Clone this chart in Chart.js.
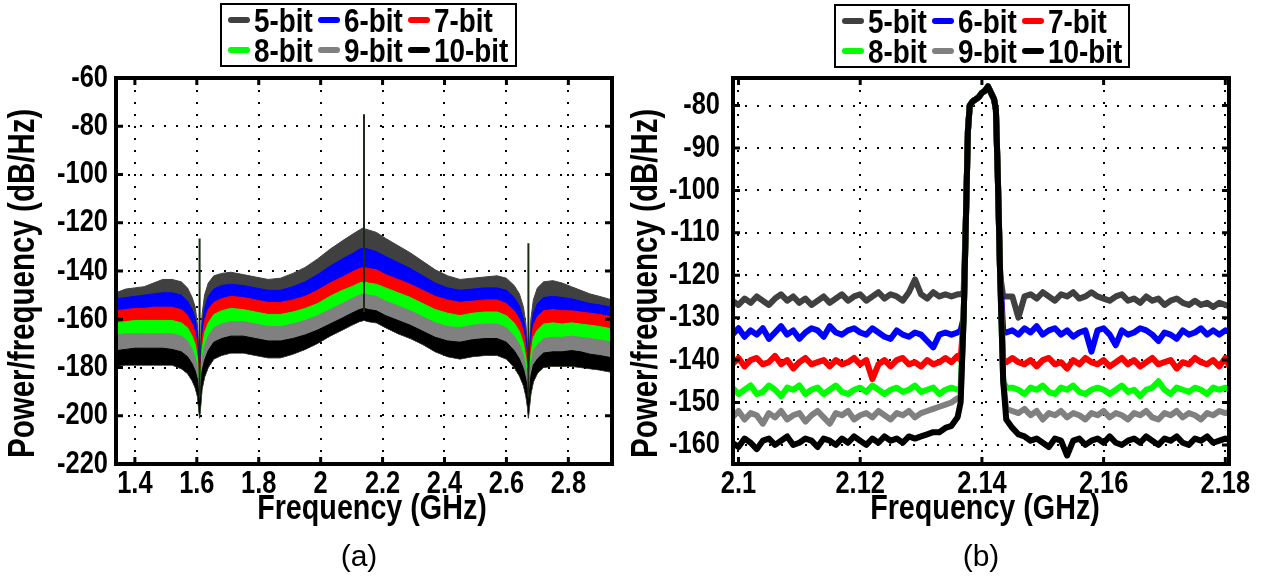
<!DOCTYPE html>
<html>
<head>
<meta charset="utf-8">
<script src="https://cdn.jsdelivr.net/npm/chart.js@4.4.0/dist/chart.umd.min.js"></script>
<style>
html,body{margin:0;padding:0;background:#fff;width:1266px;height:578px;overflow:hidden;position:relative;font-family:'Liberation Sans',Arial,Helvetica,sans-serif;}
canvas{position:absolute;top:0;}
#cA{left:0;width:625px;height:578px;}
#cB{left:625px;width:641px;height:578px;}
.legend{position:absolute;box-sizing:border-box;border:2.5px solid #000;background:#fff;display:grid;grid-template-columns:auto auto auto;column-gap:5px;justify-content:center;align-content:center;font-weight:bold;font-size:34px;line-height:30px;color:#000;}
.item{display:flex;align-items:center;white-space:nowrap;}
.swatch{display:inline-block;width:22px;height:6px;border-radius:3px;margin-right:4px;}
.txt{display:inline-block;transform:scaleX(0.82);transform-origin:0 50%;}
.cap{position:absolute;font-size:30px;transform:translate(-50%,-50%);color:#000;}
</style>
</head>
<body>
<canvas id="cA" width="625" height="578"></canvas>
<canvas id="cB" width="641" height="578"></canvas>
<div class="legend" id="legA" style="left:220px;top:3px;width:297px;height:64px"></div>
<div class="legend" id="legB" style="left:834px;top:4px;width:296px;height:64px"></div>
<div class="cap" style="left:359px;top:556px">(a)</div>
<div class="cap" style="left:981px;top:556px">(b)</div>
<script>
// ---------- shared ----------
const seriesNames = ['5-bit','6-bit','7-bit','8-bit','9-bit','10-bit'];
const seriesColors = ['#404040','#0000ff','#ff0000','#00ff00','#808080','#000000'];

// ---------- panel (a): wideband PSD, upper envelopes of each trace ----------
const freqA = [1.339,1.37,1.40,1.43,1.46,1.49,1.52,1.55,1.57,1.585,1.595,1.602,1.606,1.609,1.612,1.617,1.625,1.637,1.655,1.68,1.71,1.75,1.79,1.83,1.87,1.91,1.95,1.99,2.03,2.07,2.10,2.125,2.139,2.141,2.155,2.18,2.21,2.25,2.29,2.33,2.37,2.41,2.45,2.49,2.53,2.57,2.60,2.625,2.642,2.655,2.663,2.668,2.671,2.674,2.679,2.687,2.70,2.72,2.75,2.78,2.81,2.84,2.87,2.90,2.941];
const top5A = [-149,-147.5,-147,-146.5,-145,-143.5,-143.5,-144.5,-147,-151,-155,-162,-172,-184,-172,-158,-150,-145,-142,-141,-140.5,-141.5,-142.5,-143.5,-143,-141,-138.5,-135,-131,-127.5,-125,-123,-122,-122.5,-123,-124,-126.5,-129.5,-132.5,-136,-139.5,-142,-143.5,-143,-142.5,-142,-143,-146,-149.5,-155,-162,-171,-184,-172,-160,-152,-147,-144.5,-144,-145,-146.5,-148,-149.5,-150.5,-152];
const top6A = [-151.5,-151,-150.5,-150,-149.5,-149,-149,-150,-152.5,-156,-160,-166.5,-176,-187,-176,-163,-155.5,-150.5,-147.5,-146,-145.5,-146,-147,-148,-148,-146.5,-144.5,-141.5,-138,-135,-133,-131,-130.5,-130.5,-131,-132,-134,-136.5,-139,-142,-145,-147,-148,-147.5,-147,-147,-148,-151,-154.5,-160,-166.5,-175,-187,-176,-165,-157.5,-153.5,-151,-150.5,-151,-151.5,-152.5,-153.5,-154,-155];
const top7A = [-156.5,-156,-155.5,-155.5,-155,-155,-155,-156,-158.5,-162,-165.5,-171.5,-180,-189,-180,-168,-160.5,-156,-153,-151.5,-150.5,-151,-152,-153,-153,-152,-150.5,-148,-145,-142.5,-140.5,-139,-138.5,-138.5,-139,-139.5,-141.5,-143.5,-145.5,-148,-150.5,-152,-153,-152.5,-152,-152,-153.5,-156.5,-160,-165,-171.5,-179,-189,-180,-170,-162.5,-159,-156.5,-156,-156.5,-156.5,-157,-157.5,-158,-159];
const top8A = [-161.5,-161,-160.5,-160.5,-160.5,-160.5,-160.5,-161.5,-163.5,-167,-170.5,-176,-184,-191,-184,-172.5,-165.5,-161.5,-158,-156.5,-155.5,-156,-157,-158,-158,-157,-155.5,-153.5,-150.5,-148,-146.5,-145,-144.5,-144.5,-145,-145.5,-147,-149,-151,-153.5,-156,-157.5,-158.5,-157.5,-157,-157,-158.5,-161.5,-165,-170,-176,-183,-191,-184,-174.5,-167.5,-164.5,-162,-161.5,-162,-161.5,-162,-162.5,-163,-164];
const top9A = [-166.5,-166,-166,-166,-166,-166,-166,-167,-169,-172.5,-176,-180.5,-187.5,-193,-187.5,-177,-171,-167,-163.5,-162,-161,-161,-162,-163,-163,-162,-160.5,-158.5,-156,-153.5,-151.5,-150,-149.5,-149.5,-150,-150.5,-152.5,-154.5,-156.5,-159,-161.5,-163,-163.5,-162.5,-162,-162,-163.5,-167,-170.5,-175,-180.5,-186.5,-193,-187.5,-179,-173,-170.5,-168,-167.5,-167.5,-167,-167.5,-168,-168.5,-169.5];
const top10A = [-173,-172.5,-172,-172,-172,-172,-172.5,-173.5,-175.5,-178.5,-181.5,-185,-190.5,-195,-190.5,-181.5,-177,-173,-169.5,-168,-167,-167,-168,-169,-169,-168,-166.5,-164.5,-162,-159.5,-157.5,-156,-155.5,-155.5,-156,-156.5,-158.5,-160.5,-162.5,-165,-167.5,-169,-169.5,-168.5,-168,-168,-169.5,-173,-176.5,-180.5,-185,-189.5,-195,-190.5,-183.5,-179,-176.5,-174,-173.5,-173.5,-173,-173.5,-174.5,-175,-176];
const floor10A = [-179.5,-179,-179,-179,-179,-179,-179,-180.5,-182.5,-185.5,-188.5,-192,-197,-201,-197,-189,-184,-180,-176.5,-175,-174,-174,-175,-176,-176,-174.5,-172.5,-170,-167,-164.5,-162.5,-161,-160.5,-160.5,-161,-161.5,-163.5,-166,-168,-170.5,-173.5,-175.5,-176.5,-175.5,-175,-175,-176.5,-180,-183.5,-187.5,-192,-196.5,-201,-197,-191,-186,-182.5,-180,-179.5,-179.5,-179.5,-180,-180.5,-181,-182];
const spurFreqA = [1.609, 2.14, 2.671];
const spurPeakA = [-126.5, -75, -128.5];
const spurBaseA = [-192, -157, -192];
const xTicksA = [1.4,1.6,1.8,2.0,2.2,2.4,2.6,2.8];
const xLabelsA = ['1.4','1.6','1.8','2','2.2','2.4','2.6','2.8'];
const yTicksA = [-60,-80,-100,-120,-140,-160,-180,-200,-220];
const yLabelsA = ['-60','-80','-100','-120','-140','-160','-180','-200','-220'];

// ---------- panel (b): zoom around the carrier ----------
const freqB = [2.099,2.100,2.101,2.102,2.103,2.104,2.105,2.106,2.107,2.108,2.109,2.110,2.111,2.112,2.113,2.114,2.115,2.116,2.117,2.118,2.119,2.120,2.121,2.122,2.123,2.124,2.125,2.126,2.127,2.128,2.129,2.130,2.131,2.132,2.133,2.134,2.135,2.136,
 2.1365,2.1370,2.1374,2.1377,2.1380,2.1385,2.1390,2.1395,2.1400,2.1405,2.1410,2.1415,2.1420,2.1423,2.1426,2.1430,2.1435,2.1440,
 2.145,2.146,2.147,2.148,2.149,2.150,2.151,2.152,2.153,2.154,2.155,2.156,2.157,2.158,2.159,2.160,2.161,2.162,2.163,2.164,2.165,2.166,2.167,2.168,2.169,2.170,2.171,2.172,2.173,2.174,2.175,2.176,2.177,2.178,2.179,2.180,2.181];
const toneB = [-105,-86,-80,-79,-78.5,-78,-77,-76.5,-75.5,-77,-78.5,-81,-96,-120];
const b5Lo = [-126,-127,-125.5,-126.5,-125,-126,-127,-125.5,-124.5,-126,-125,-126.5,-125.5,-127,-126,-125,-126.5,-125.5,-124.5,-126,-125,-124.5,-126,-125,-124,-125.5,-124.5,-125,-126,-124,-121,-124.5,-125.5,-124,-125,-124.5,-125,-124.5];
const b5Edge = [-124.5,-124,-125,-125];
const b5Hi = [-125,-130,-125,-124.5,-125.5,-124,-125,-126,-124.5,-125,-124,-125.5,-125,-124,-125,-125.5,-126,-125,-124.5,-126,-125.5,-126.5,-125,-126,-125.5,-127,-126,-125.5,-126.5,-127,-126,-127,-126.5,-127.5,-126.5,-127,-127.5];
const b6Lo = [-134,-132.5,-134.5,-133,-134,-132.5,-135,-133.5,-132,-134,-133,-135,-133.5,-132.5,-133,-134.5,-132,-133.5,-134,-133,-132.5,-133.5,-134,-132.5,-133.5,-134.5,-135,-133,-134,-134.5,-133.5,-134,-135.5,-137,-134,-133.5,-134,-133.5];
const b6Edge = [-133,-130,-133,-133.5];
const b6Hi = [-133,-134,-132.5,-133.5,-132,-134,-133,-132.5,-134,-133,-134.5,-133.5,-133,-138,-133,-132.5,-134,-136.5,-133,-134,-133.5,-132.5,-133,-134,-135.5,-133.5,-134,-135,-133,-134,-133.5,-132.5,-134,-133,-134,-133,-133.5];
const b7Lo = [-141,-139.5,-141.5,-140,-139.5,-141,-140.5,-139,-141,-140,-142,-140.5,-139.5,-141,-140.5,-140,-141.5,-140,-141,-140.5,-139.5,-141,-140,-144.5,-141,-140,-141.5,-140,-139.5,-141,-140.5,-141.5,-140,-141,-140.5,-139.5,-140.5,-139];
const b7Edge = [-140,-130,-140,-140.5];
const b7Hi = [-139.5,-140.5,-141,-140,-141.5,-140,-139.5,-141,-140.5,-142,-140,-141,-139.5,-140.5,-141,-140,-141.5,-140.5,-139.5,-141,-140,-141.5,-140.5,-139.5,-141,-140.5,-140,-142,-140.5,-141,-139.5,-140.5,-141,-140,-141.5,-139.5,-142.5];
const b8Lo = [-146.5,-148,-147,-146,-148,-147.5,-146,-147,-148.5,-146.5,-147,-146,-148,-147,-146.5,-148,-147,-146,-147.5,-148,-147,-146.5,-147.5,-146,-147,-148,-147,-146.5,-147.5,-147,-146,-147.5,-147,-146.5,-148,-147,-146.5,-147];
const b8Edge = [-146.5,-130,-145,-146.5];
const b8Hi = [-146.5,-147,-148,-146.5,-147,-146,-147.5,-148,-146.5,-147,-146,-147.5,-148,-147,-146.5,-147,-148,-147,-146,-147.5,-147,-148.5,-147,-146.5,-145,-147,-148,-146.5,-147,-147.5,-146.5,-147,-148,-146.5,-147,-146.5,-147];
const b9Lo = [-153.5,-152,-154,-152.5,-153,-155,-152.5,-153.5,-152,-154,-153,-152.5,-154.5,-153,-152,-153.5,-155,-152.5,-153,-152,-154,-153,-152.5,-153.5,-152,-153,-154,-152.5,-153,-152,-153.5,-152.5,-152,-151.5,-151,-150.5,-150,-149];
const b9Edge = [-149,-130,-145,-151.5];
const b9Hi = [-152,-152.5,-151.5,-153,-152,-154,-152.5,-153,-152,-153.5,-152.5,-153,-154,-152.5,-153,-152,-153.5,-152.5,-153,-154,-152.5,-153,-152,-153.5,-154,-152.5,-153,-152,-153.5,-152.5,-153,-154,-152.5,-153,-152,-152.5,-152];
const b10Lo = [-159.5,-160.5,-158.5,-159.5,-161,-159,-158.5,-160,-159,-158,-160,-159.5,-158.5,-159,-160.5,-158.5,-159,-160,-158.5,-159.5,-158,-159,-160,-158.5,-159.5,-158,-159,-158.5,-159.5,-158,-158.5,-158,-157.5,-157,-157,-156,-155.5,-153.5];
const b10Edge = [-150,-130,-145,-154];
const b10Hi = [-156,-157.5,-158,-159,-158.5,-159.5,-160.5,-158.5,-159,-162.5,-159,-158.5,-160,-159,-158.5,-159.5,-158,-159.5,-160,-159,-158.5,-159.5,-158,-159,-160,-158.5,-159,-158,-159.5,-160,-158.5,-159,-158,-159.5,-159,-158.5,-159];
const xTicksB = [2.10,2.12,2.14,2.16,2.18];
const xLabelsB = ['2.1','2.12','2.14','2.16','2.18'];
const yTicksB = [-80,-90,-100,-110,-120,-130,-140,-150,-160];
const yLabelsB = ['-80','-90','-100','-110','-120','-130','-140','-150','-160'];

// ---------- helpers ----------
Chart.defaults.font.family = "'Liberation Sans', Arial, Helvetica, sans-serif";
Chart.defaults.color = '#000';
const NARROW_K = 0.82;   // the figure's lettering is condensed

function condense(canvas){
  const ctx = canvas.getContext('2d');
  const orig = ctx.fillText;
  ctx.fillText = function(text, x, y){
    this.save(); this.translate(x, y); this.scale(NARROW_K, 1);
    orig.call(this, text, 0, 0);
    this.restore();
  };
}

function pts(xs, ys){ return ys.map((y,i)=>({x:xs[i], y:y})); }

const framePlugin = {
  id:'frame',
  afterDraw(chart){
    const {ctx, chartArea:a} = chart;
    const xs = chart.scales.x, ys = chart.scales.y;
    ctx.save();
    ctx.strokeStyle = '#000';
    ctx.lineWidth = 3;
    ctx.beginPath();
    xs.ticks.forEach(t=>{ const p = xs.getPixelForValue(t.value);
      ctx.moveTo(p,a.bottom); ctx.lineTo(p,a.bottom-7);
      ctx.moveTo(p,a.top); ctx.lineTo(p,a.top+7); });
    ys.ticks.forEach(t=>{ const p = ys.getPixelForValue(t.value);
      ctx.moveTo(a.left,p); ctx.lineTo(a.left+7,p);
      ctx.moveTo(a.right,p); ctx.lineTo(a.right-7,p); });
    ctx.stroke();
    ctx.lineWidth = 4;
    ctx.strokeRect(a.left, a.top, a.right-a.left, a.bottom-a.top);
    ctx.restore();
  }
};

function scales(c){
  return {
    x: { type:'linear', min:c.xmin, max:c.xmax,
      afterBuildTicks: s => { s.ticks = c.xt.map(v=>({value:v})); },
      afterFit: s => { s.height = c.xh; },
      grid: { color:'#000', lineWidth:2, drawTicks:false },
      border: { display:false, dash:[2,10] },
      ticks: { color:'#000', font:{size:31, weight:'bold'}, padding:2, maxRotation:0, autoSkip:false, callback:(v,i)=>c.xl[i] },
      title: { display:true, text:c.xtitle, color:'#000', font:{size:35, weight:'bold'}, padding:0 } },
    y: { type:'linear', min:c.ymin, max:c.ymax,
      afterBuildTicks: s => { s.ticks = c.yt.map(v=>({value:v})); },
      afterFit: s => { s.width = c.yw; },
      grid: { color:'#000', lineWidth:2, drawTicks:false },
      border: { display:false, dash:[2,10] },
      ticks: { color:'#000', font:{size:31, weight:'bold'}, padding:c.ypad, autoSkip:false, callback:(v,i)=>c.yl[i] },
      title: { display:true, text:'Power/frequency (dB/Hz)\u00a0\u00a0\u00a0', color:'#000', font:{size:36, weight:'bold'}, padding:{top:c.ytp, bottom:0} } }
  };
}

const commonOpts = {
  responsive:false, animation:false, devicePixelRatio:1,
  plugins:{ legend:{display:false}, tooltip:{enabled:false} },
  elements:{ point:{radius:0} }
};

// ---------- chart (a) ----------
const cA = document.getElementById('cA');
condense(cA);
const topsA = [top5A, top6A, top7A, top8A, top9A, top10A];
const dsA = topsA.map((arr,i)=>({
  label: seriesNames[i], data: pts(freqA, arr),
  borderColor: seriesColors[i], backgroundColor: seriesColors[i],
  borderWidth: 1, fill: 6, order: 6-i, tension: 0
}));
dsA.push({ label:'floor', data: pts(freqA, floor10A), borderColor:'#000', borderWidth:1, fill:false, order: 8 });
const spurData = [];
spurFreqA.forEach((f,i)=>{ spurData.push({x:f, y:spurBaseA[i]}, {x:f, y:spurPeakA[i]}, {x:f, y:null}); });
dsA.push({ label:'spur', data: spurData, borderColor:'#1e2a14', borderWidth:2, fill:false, order:0, spanGaps:false });

new Chart(cA, {
  type:'line',
  data:{ datasets: dsA },
  options: Object.assign({}, commonOpts, {
    layout:{ padding:{ top:78, left:0, right:13, bottom:48 } },
    scales: scales({ xmin:1.339, xmax:2.941, xt:xTicksA, xl:xLabelsA, xh:66, xtitle:'\u00a0\u00a0Frequency (GHz)',
                     ymin:-220, ymax:-60, yt:yTicksA, yl:yLabelsA, yw:116, ypad:8, ytp:2 })
  }),
  plugins:[framePlugin]
});

// ---------- chart (b) ----------
const cB = document.getElementById('cB');
condense(cB);
const partsB = [[b5Lo,b5Edge,b5Hi],[b6Lo,b6Edge,b6Hi],[b7Lo,b7Edge,b7Hi],[b8Lo,b8Edge,b8Hi],[b9Lo,b9Edge,b9Hi],[b10Lo,b10Edge,b10Hi]];
const dsB = partsB.map((p,i)=>{
  const ys = [...p[0], p[1][0], p[1][1], ...toneB, p[1][2], p[1][3], ...p[2]];
  return { label: seriesNames[i], data: pts(freqB, ys), borderColor: seriesColors[i],
           borderWidth: 6, fill:false, order: 5-i, tension:0, borderJoinStyle:'round', borderCapStyle:'round', clip: 0 };
});

new Chart(cB, {
  type:'line',
  data:{ datasets: dsB },
  options: Object.assign({}, commonOpts, {
    layout:{ padding:{ top:78, left:0, right:37, bottom:48 } },
    scales: scales({ xmin:2.0991, xmax:2.1806, xt:xTicksB, xl:xLabelsB, xh:66, xtitle:'\u00a0Frequency (GHz)',
                     ymin:-164.5, ymax:-73.5, yt:yTicksB, yl:yLabelsB, yw:108, ypad:13, ytp:0 })
  }),
  plugins:[framePlugin]
});

// ---------- legends ----------
function buildLegend(id){
  const el = document.getElementById(id);
  seriesNames.forEach((n,i)=>{
    const it = document.createElement('div'); it.className = 'item';
    const sw = document.createElement('span'); sw.className = 'swatch'; sw.style.background = seriesColors[i];
    const tx = document.createElement('span'); tx.className = 'txt'; tx.textContent = n;
    it.appendChild(sw); it.appendChild(tx);
    el.appendChild(it);
    const w = tx.getBoundingClientRect().width / NARROW_K;
    tx.style.marginRight = (-(1 - NARROW_K) * w) + 'px';
  });
}
buildLegend('legA');
buildLegend('legB');
</script>
</body>
</html>
